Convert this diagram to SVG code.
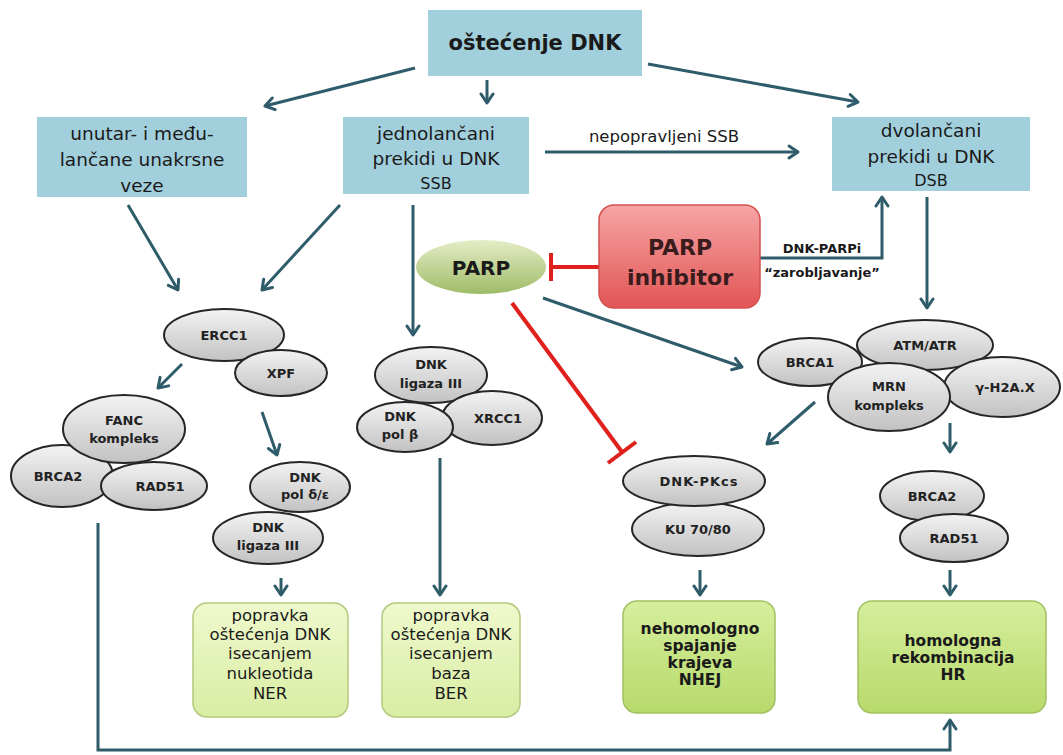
<svg xmlns="http://www.w3.org/2000/svg" width="1063" height="755" viewBox="0 0 1063 755">
<defs>
<style>
.t{font-family:"DejaVu Sans","Liberation Sans",sans-serif;fill:#1a1a1a;text-anchor:middle}
.bt{font-size:18.5px}
.et{font-size:13px;font-weight:bold;fill:#222}
.gt{font-size:16.5px}
.box{fill:#a2cfdc}
.ell{fill:url(#gray);stroke:#262626;stroke-width:2}
.conn{stroke:#2f5c6a;stroke-width:3;fill:none;marker-end:url(#ah)}
.inh{stroke:#e0201c;stroke-width:4;fill:none}
.lg{fill:url(#lgreen);stroke:#b2c97e;stroke-width:1.5}
.dg{fill:url(#dgreen);stroke:#a3c062;stroke-width:1.5}
</style>
<marker id="ah" markerUnits="userSpaceOnUse" markerWidth="16" markerHeight="16" refX="11" refY="8" orient="auto">
<path d="M2,2 L11,8 L2,14" stroke="#2f5c6a" stroke-width="3" fill="none" stroke-linecap="round" stroke-linejoin="round"/>
</marker>
<linearGradient id="gray" x1="0" y1="0" x2="0" y2="1">
<stop offset="0" stop-color="#f3f3f3"/><stop offset="1" stop-color="#c2c2c2"/>
</linearGradient>
<linearGradient id="parp" x1="0" y1="0" x2="0" y2="1">
<stop offset="0" stop-color="#e4edc6"/><stop offset="1" stop-color="#9fbb68"/>
</linearGradient>
<linearGradient id="red" x1="0" y1="0" x2="0" y2="1">
<stop offset="0" stop-color="#f6a5a5"/><stop offset="1" stop-color="#e25555"/>
</linearGradient>
<linearGradient id="lgreen" x1="0" y1="0" x2="0" y2="1">
<stop offset="0" stop-color="#eff9cc"/><stop offset="1" stop-color="#d9eda4"/>
</linearGradient>
<linearGradient id="dgreen" x1="0" y1="0" x2="0" y2="1">
<stop offset="0" stop-color="#d6ee9c"/><stop offset="1" stop-color="#b7da6c"/>
</linearGradient>
</defs>
<rect width="1063" height="755" fill="#ffffff"/>

<g id="connectors">
<line class="conn" x1="415" y1="68" x2="265" y2="106"/>
<line class="conn" x1="487" y1="80" x2="487" y2="103"/>
<line class="conn" x1="648" y1="64" x2="858" y2="102"/>
<line class="conn" x1="545" y1="152" x2="798" y2="152"/>
<line class="conn" x1="128" y1="205" x2="178" y2="290"/>
<line class="conn" x1="340" y1="205" x2="262" y2="290"/>
<line class="conn" x1="413" y1="205" x2="413" y2="335"/>
<polyline class="conn" points="760,258 882,258 882,197"/>
<line class="conn" x1="927" y1="197" x2="927" y2="308"/>
<line class="conn" x1="182" y1="364" x2="158" y2="388"/>
<line class="conn" x1="262" y1="412" x2="277" y2="455"/>
<line class="conn" x1="281" y1="578" x2="281" y2="595"/>
<line class="conn" x1="440" y1="458" x2="440" y2="595"/>
<line class="conn" x1="543" y1="298" x2="742" y2="367"/>
<line class="conn" x1="815" y1="402" x2="767" y2="444"/>
<line class="conn" x1="950" y1="423" x2="950" y2="452"/>
<line class="conn" x1="700" y1="570" x2="700" y2="595"/>
<line class="conn" x1="950" y1="570" x2="950" y2="595"/>
<polyline class="conn" points="98,523 98,750 950,750 950,720"/>
<line class="inh" x1="600" y1="267" x2="551" y2="267"/>
<line class="inh" x1="551" y1="253" x2="551" y2="281"/>
<line class="inh" x1="512" y1="303" x2="622" y2="452"/>
<line class="inh" x1="608" y1="463" x2="636" y2="442"/>
</g>

<g id="n_top"><rect class="box" x="428" y="10" width="214" height="66"/>
<text class="t" x="535" y="50" style="font-size:21px;font-weight:bold">oštećenje DNK</text></g>

<g id="n_cross"><rect class="box" x="37" y="117" width="210" height="80"/>
<text class="t bt" x="142" y="140">unutar- i među-</text>
<text class="t bt" x="142" y="166">lančane unakrsne</text>
<text class="t bt" x="142" y="192">veze</text></g>

<g id="n_ssb"><rect class="box" x="343" y="117" width="186" height="77"/>
<text class="t bt" x="436" y="140">jednolančani</text>
<text class="t bt" x="436" y="165">prekidi u DNK</text>
<text class="t" x="436" y="189" style="font-size:16px">SSB</text></g>

<g id="n_dsb"><rect class="box" x="832" y="117" width="198" height="74"/>
<text class="t bt" x="931" y="137">dvolančani</text>
<text class="t bt" x="931" y="163">prekidi u DNK</text>
<text class="t" x="931" y="186" style="font-size:16px">DSB</text></g>

<text class="t" x="664" y="142" style="font-size:16.5px">nepopravljeni SSB</text>

<g id="n_inhibitor"><rect x="599" y="205" width="161" height="103" rx="15" fill="url(#red)" stroke="#d45050" stroke-width="1.5"/>
<text class="t" x="680" y="255" style="font-size:22px;font-weight:bold;fill:#3a1c1c">PARP</text>
<text class="t" x="680" y="285" style="font-size:22px;font-weight:bold;fill:#3a1c1c">inhibitor</text></g>

<text class="t" x="822" y="253" style="font-size:13px;font-weight:bold">DNK-PARPi</text>
<text class="t" x="822" y="277" style="font-size:13px;font-weight:bold">“zarobljavanje”</text>

<g id="n_parp"><ellipse cx="481" cy="267" rx="65" ry="27" fill="url(#parp)"/>
<text class="t" x="481" y="275" style="font-size:20px;font-weight:bold">PARP</text></g>

<g id="n_ercc1"><ellipse class="ell" cx="224" cy="335" rx="60" ry="26"/><text class="t et" x="224" y="340">ERCC1</text></g>
<g id="n_xpf"><ellipse class="ell" cx="281" cy="373" rx="46" ry="23"/><text class="t et" x="281" y="378">XPF</text></g>
<g id="n_brca2a"><ellipse class="ell" cx="62" cy="476" rx="51" ry="31"/><text class="t et" x="58" y="481">BRCA2</text></g>
<g id="n_rad51a"><ellipse class="ell" cx="154" cy="486" rx="53" ry="24"/><text class="t et" x="160" y="491">RAD51</text></g>
<g id="n_fanc"><ellipse class="ell" cx="124" cy="429" rx="61" ry="34"/><text class="t et" x="124" y="425">FANC</text><text class="t et" x="124" y="443">kompleks</text></g>
<g id="n_polde"><ellipse class="ell" cx="300" cy="487" rx="50" ry="25"/><text class="t et" x="305" y="482">DNK</text><text class="t et" x="305" y="499">pol δ/ε</text></g>
<g id="n_lig3a"><ellipse class="ell" cx="268" cy="538" rx="55" ry="26"/><text class="t et" x="268" y="532">DNK</text><text class="t et" x="268" y="550">ligaza III</text></g>

<g id="n_lig3b"><ellipse class="ell" cx="431" cy="375" rx="56" ry="28"/><text class="t et" x="431" y="369">DNK</text><text class="t et" x="431" y="388">ligaza III</text></g>
<g id="n_xrcc1"><ellipse class="ell" cx="492" cy="418" rx="50" ry="27"/><text class="t et" x="498" y="423">XRCC1</text></g>
<g id="n_polb"><ellipse class="ell" cx="405" cy="427" rx="48" ry="25"/><text class="t et" x="400" y="421">DNK</text><text class="t et" x="400" y="439">pol β</text></g>

<g id="n_atm"><ellipse class="ell" cx="925" cy="345" rx="68" ry="25"/><text class="t et" x="925" y="350">ATM/ATR</text></g>
<g id="n_brca1"><ellipse class="ell" cx="810" cy="362" rx="52" ry="24"/><text class="t et" x="810" y="367">BRCA1</text></g>
<g id="n_h2ax"><ellipse class="ell" cx="1002" cy="387" rx="58" ry="30"/><text class="t et" x="1005" y="392">γ-H2A.X</text></g>
<g id="n_mrn"><ellipse class="ell" cx="889" cy="397" rx="61" ry="34"/><text class="t et" x="889" y="391">MRN</text><text class="t et" x="889" y="410">kompleks</text></g>

<g id="n_ku"><ellipse class="ell" cx="698" cy="529" rx="66" ry="27"/><text class="t et" x="698" y="534">KU 70/80</text></g>
<g id="n_dnkpk"><ellipse class="ell" cx="694" cy="481" rx="71" ry="25"/><text class="t et" x="699" y="486" style="letter-spacing:1px">DNK-PKcs</text></g>

<g id="n_brca2b"><ellipse class="ell" cx="932" cy="496" rx="52" ry="25"/><text class="t et" x="932" y="501">BRCA2</text></g>
<g id="n_rad51b"><ellipse class="ell" cx="954" cy="538" rx="54" ry="24"/><text class="t et" x="954" y="543">RAD51</text></g>

<g id="n_ner"><rect class="lg" x="193" y="603" width="155" height="114" rx="14"/>
<text class="t gt" x="270" y="621">popravka</text>
<text class="t gt" x="270" y="640">oštećenja DNK</text>
<text class="t gt" x="270" y="659">isecanjem</text>
<text class="t gt" x="270" y="679">nukleotida</text>
<text class="t gt" x="270" y="699">NER</text></g>

<g id="n_ber"><rect class="lg" x="382" y="603" width="138" height="114" rx="14"/>
<text class="t gt" x="451" y="621">popravka</text>
<text class="t gt" x="451" y="640">oštećenja DNK</text>
<text class="t gt" x="451" y="659">isecanjem</text>
<text class="t gt" x="451" y="679">baza</text>
<text class="t gt" x="451" y="699">BER</text></g>

<g id="n_nhej"><rect class="dg" x="623" y="601" width="152" height="112" rx="14"/>
<text class="t" x="700" y="634" style="font-size:15.5px;font-weight:bold">nehomologno</text>
<text class="t" x="700" y="651" style="font-size:15.5px;font-weight:bold">spajanje</text>
<text class="t" x="700" y="668" style="font-size:15.5px;font-weight:bold">krajeva</text>
<text class="t" x="700" y="685" style="font-size:15.5px;font-weight:bold">NHEJ</text></g>

<g id="n_hr"><rect class="dg" x="858" y="601" width="188" height="112" rx="14"/>
<text class="t" x="953" y="646" style="font-size:15.5px;font-weight:bold">homologna</text>
<text class="t" x="953" y="663" style="font-size:15.5px;font-weight:bold">rekombinacija</text>
<text class="t" x="953" y="680" style="font-size:15.5px;font-weight:bold">HR</text></g>
</svg>
